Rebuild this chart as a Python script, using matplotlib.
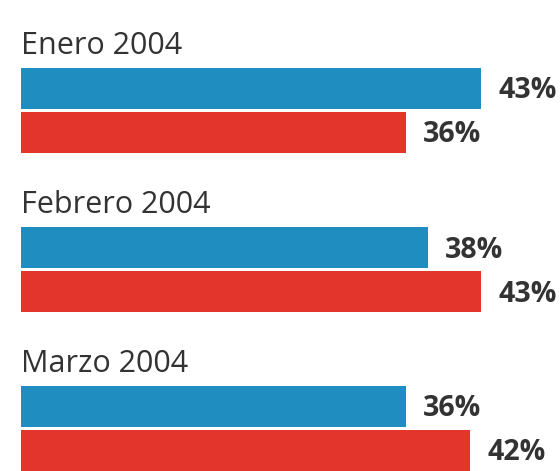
import matplotlib.pyplot as plt

# datos
meses = ['Enero 2004', 'Febrero 2004', 'Marzo 2004']
serie_azul = [43, 38, 36]
serie_roja = [36, 43, 42]

azul = '#1f8dc0'
rojo = '#e4352d'
gris = '#333333'

plt.rcParams['font.family'] = ['Open Sans', 'DejaVu Sans']

W, H = 560, 471
fig = plt.figure(figsize=(W / 100, H / 100), dpi=100)
x0 = 21          # borde izquierdo de las barras (px)
px_por_pct = 10.7
ax = fig.add_axes([x0 / W, 0, (W - x0) / W, 1])
ax.set_xlim(0, (W - x0) / px_por_pct)
ax.set_ylim(H, 0)   # coordenadas en pixeles, hacia abajo
ax.axis('off')

paso = 159      # distancia entre grupos
alto = 41
primera = 68

for i, mes in enumerate(meses):
    top = primera + paso * i
    y_azul = top + alto / 2
    y_rojo = top + alto + 3 + alto / 2
    ax.barh(y_azul, serie_azul[i], height=alto, color=azul, left=0)
    ax.barh(y_rojo, serie_roja[i], height=alto, color=rojo, left=0)

    # etiqueta del mes
    ax.text(0, top - 14, mes, fontsize=22, color=gris, va='baseline', ha='left')

    # etiquetas de valor
    off = 17 / px_por_pct
    ax.text(serie_azul[i] + off, y_azul + 10, f'{serie_azul[i]}%', fontsize=20.5,
            fontweight='bold', color=gris, va='baseline', ha='left')
    ax.text(serie_roja[i] + off, y_rojo + 10, f'{serie_roja[i]}%', fontsize=20.5,
            fontweight='bold', color=gris, va='baseline', ha='left')

fig.savefig('out.png', dpi=100)
